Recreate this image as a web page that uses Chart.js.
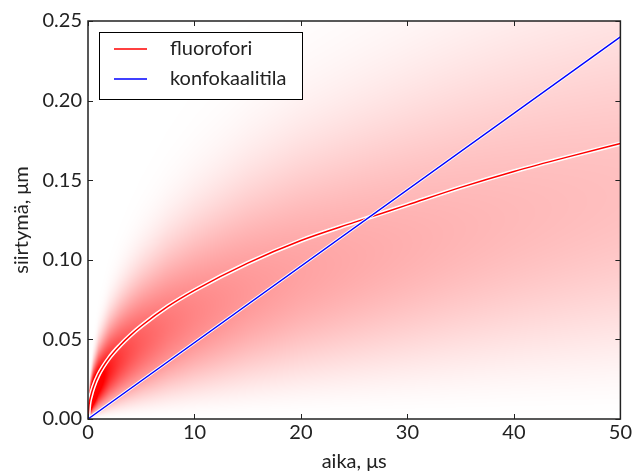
<!DOCTYPE html>
<html>
<head>
<meta charset="utf-8">
<script src="https://cdn.jsdelivr.net/npm/chart.js@4"></script>
<style>
  html, body { margin: 0; padding: 0; background: #fff; }
  canvas { display: block; }
</style>
</head>
<body>
<canvas id="chart" width="634" height="472"></canvas>
<script>
// fluorofori: displacement curve
const timeFluor = [0, 0.1, 0.25, 0.5, 1, 2, 3, 4, 5, 7.5, 10, 15, 20, 25, 30, 35, 40, 45, 50];
const dispFluor = [0, 0.0092, 0.0142, 0.020, 0.028, 0.0385, 0.0462, 0.0527, 0.0584, 0.0707, 0.0808, 0.0979, 0.1121, 0.1235, 0.1345, 0.1455, 0.1555, 0.1645, 0.173];

// konfokaalitila: straight line
const timeConf = [0, 50];
const dispConf = [0, 0.24];

const xTicks = [0, 10, 20, 30, 40, 50];
const yTicks = [0, 0.05, 0.10, 0.15, 0.20, 0.25];

const RED = '#ff0000';
const BLUE = '#0000ff';
const FONT = 'Lato, "Open Sans", sans-serif';
const TEXT = '#222';

const toPoints = (xs, ys) => xs.map((x, i) => ({ x: x, y: ys[i] }));

// linear lookup of the fluorofori curve, used by the shading
function fluorAt(t) {
  if (t <= timeFluor[0]) return dispFluor[0];
  for (let i = 1; i < timeFluor.length; i++) {
    if (t <= timeFluor[i]) {
      const f = (t - timeFluor[i - 1]) / (timeFluor[i] - timeFluor[i - 1]);
      return dispFluor[i - 1] + f * (dispFluor[i] - dispFluor[i - 1]);
    }
  }
  return dispFluor[dispFluor.length - 1];
}

// red density shading behind the lines
const shadePlugin = {
  id: 'shade',
  beforeDraw(chart) {
    const { ctx, chartArea: a, scales } = chart;
    const w = Math.round(a.right - a.left);
    const h = Math.round(a.bottom - a.top);
    const off = document.createElement('canvas');
    off.width = w; off.height = h;
    const octx = off.getContext('2d');
    const img = octx.createImageData(w, h);
    for (let px = 0; px < w; px++) {
      const t = scales.x.getValueForPixel(a.left + px + 0.5);
      const m = Math.max(fluorAt(t), 0.004);
      const s = m / 1.732;
      for (let py = 0; py < h; py++) {
        const r = scales.y.getValueForPixel(a.top + py + 0.5);
        const q = (r * r) / (s * s);
        const p = 0.798 * q * Math.exp(-q / 2) / s;
        const f = Math.min(1, Math.pow(p / 30, 0.85));
        const k = (py * w + px) * 4;
        img.data[k] = 255;
        img.data[k + 1] = Math.round(255 * (1 - f));
        img.data[k + 2] = Math.round(255 * (1 - f));
        img.data[k + 3] = 255;
      }
    }
    octx.putImageData(img, 0, 0);
    ctx.drawImage(off, a.left, a.top);
  }
};

// inward ticks on all four sides
const tickPlugin = {
  id: 'inTicks',
  afterDatasetsDraw(chart) {
    const { ctx, chartArea: a, scales } = chart;
    const len = 5;
    ctx.save();
    ctx.strokeStyle = TEXT;
    ctx.lineWidth = 1;
    ctx.beginPath();
    xTicks.forEach((v) => {
      const x = Math.round(scales.x.getPixelForValue(v)) + 0.5;
      ctx.moveTo(x, a.bottom); ctx.lineTo(x, a.bottom - len);
      ctx.moveTo(x, a.top); ctx.lineTo(x, a.top + len);
    });
    yTicks.forEach((v) => {
      const y = Math.round(scales.y.getPixelForValue(v)) + 0.5;
      ctx.moveTo(a.left, y); ctx.lineTo(a.left + len, y);
      ctx.moveTo(a.right, y); ctx.lineTo(a.right - len, y);
    });
    ctx.stroke();
    ctx.lineWidth = 1.5;
    ctx.strokeRect(a.left, a.top, a.right - a.left, a.bottom - a.top);
    ctx.restore();
  }
};

// boxed legend inside the plot, top left
const legendPlugin = {
  id: 'boxLegend',
  afterDraw(chart) {
    const { ctx, chartArea: a } = chart;
    const items = [];
    chart.data.datasets.forEach((d) => {
      if (d.label) items.push({ label: d.label, color: d.legendColor });
    });
    const bx = a.left + 11, by = a.top + 11, bw = 203, bh = 67;
    ctx.save();
    ctx.fillStyle = '#fff';
    ctx.fillRect(bx, by, bw, bh);
    ctx.strokeStyle = '#000';
    ctx.lineWidth = 1;
    ctx.strokeRect(bx + 0.5, by + 0.5, bw, bh);
    ctx.font = '20px ' + FONT;
    ctx.textBaseline = 'middle';
    items.forEach((it, i) => {
      const y = by + 17 + i * 30;
      ctx.strokeStyle = it.color;
      ctx.lineWidth = 1.3;
      ctx.beginPath();
      ctx.moveTo(bx + 15, y); ctx.lineTo(bx + 48, y);
      ctx.stroke();
      ctx.fillStyle = TEXT;
      ctx.fillText(it.label, bx + 71, y);
    });
    ctx.restore();
  }
};

new Chart(document.getElementById('chart'), {
  type: 'line',
  data: {
    datasets: [
      {
        label: 'fluorofori',
        legendColor: RED,
        data: toPoints(timeFluor, dispFluor),
        borderColor: RED,
        borderWidth: 1.5,
        cubicInterpolationMode: 'monotone',
        pointRadius: 0,
        fill: false,
        order: 2,
      },
      {
        data: toPoints(timeFluor, dispFluor),
        borderColor: '#ffffff',
        borderWidth: 4.5,
        cubicInterpolationMode: 'monotone',
        pointRadius: 0,
        fill: false,
        order: 3,
      },
      {
        label: 'konfokaalitila',
        legendColor: BLUE,
        data: toPoints(timeConf, dispConf),
        borderColor: BLUE,
        borderWidth: 1.4,
        pointRadius: 0,
        fill: false,
        order: 0,
      },
      {
        data: toPoints(timeConf, dispConf),
        borderColor: '#ffffff',
        borderWidth: 3.2,
        pointRadius: 0,
        fill: false,
        order: 1,
      },
    ],
  },
  options: {
    responsive: false,
    animation: false,
    events: [],
    layout: { padding: { top: 21, right: 13, left: 0, bottom: 0 } },
    plugins: { legend: { display: false }, tooltip: { enabled: false } },
    scales: {
      x: {
        type: 'linear',
        min: 0,
        max: 50,
        afterBuildTicks: (s) => { s.ticks = xTicks.map((v) => ({ value: v })); },
        afterFit: (s) => { s.height = 53; },
        grid: { display: false, drawTicks: false },
        border: { display: false },
        ticks: { color: TEXT, font: { family: FONT, size: 20 }, padding: 2, maxRotation: 0 },
        title: { display: true, text: 'aika, μs', color: TEXT, font: { family: FONT, size: 20, lineHeight: 1 }, padding: { top: 0, bottom: 0 } },
      },
      y: {
        type: 'linear',
        min: 0,
        max: 0.25,
        afterBuildTicks: (s) => { s.ticks = yTicks.map((v) => ({ value: v })); },
        afterFit: (s) => { s.width = 88; },
        grid: { display: false, drawTicks: false },
        border: { display: false },
        ticks: { color: TEXT, font: { family: FONT, size: 20 }, padding: 6, callback: (v) => v.toFixed(2) },
        title: { display: true, text: 'siirtymä, μm', color: TEXT, font: { family: FONT, size: 20 }, padding: { top: 10, bottom: 0 } },
      },
    },
  },
  plugins: [shadePlugin, tickPlugin, legendPlugin],
});
</script>
</body>
</html>
